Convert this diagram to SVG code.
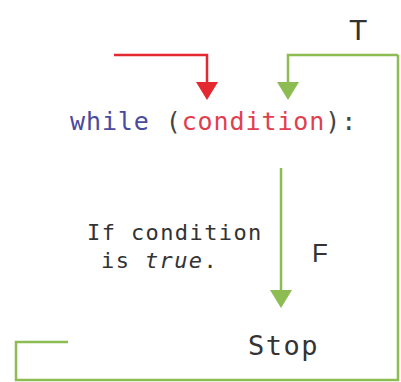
<svg xmlns="http://www.w3.org/2000/svg" width="401" height="382" viewBox="0 0 401 382">
<style>
.code{font-family:"DejaVu Sans Mono","Liberation Mono",monospace;}
.lbl{font-family:"Liberation Sans",Arial,sans-serif;fill:#333;}
.g{stroke:#8cbc52;stroke-width:2.5;fill:none;}
.r{stroke:#e3282f;stroke-width:2.5;fill:none;}
</style>
<rect width="401" height="382" fill="#fff"/>
<g id="connectors">
<polyline class="r" points="114,55 207,55 207,86"/>
<polygon points="196,82 218,82 207,100" fill="#e3282f"/>
<polyline class="g" points="398,55 288,55 288,86"/>
<polygon points="277,82 299,82 288,100" fill="#8cbc52"/>
<line class="g" x1="281" y1="168" x2="281" y2="293"/>
<polygon points="270,290 292,290 281,308" fill="#8cbc52"/>
<polyline class="g" points="398,55 398,380 16,380 16,342 68,342"/>
</g>
<g id="while">
<text class="code" x="70" y="130" font-size="25" letter-spacing="0.9" fill="#444"><tspan fill="#4a4a9e">while</tspan> (<tspan fill="#e0404e">condition</tspan>):</text>
</g>
<g id="note">
<text class="code" x="87" y="240" font-size="22" fill="#333" letter-spacing="1.4">If condition</text>
<text class="code" x="101" y="268" font-size="22" fill="#333" letter-spacing="1.4">is <tspan font-style="italic">true</tspan>.</text>
</g>
<g id="stop">
<text class="code" x="248" y="355" font-size="27" letter-spacing="1.5" fill="#333">Stop</text>
</g>
<g id="T"><text class="lbl" x="349" y="40" font-size="30">T</text></g>
<g id="F"><text class="lbl" x="312" y="262" font-size="26">F</text></g>
</svg>
